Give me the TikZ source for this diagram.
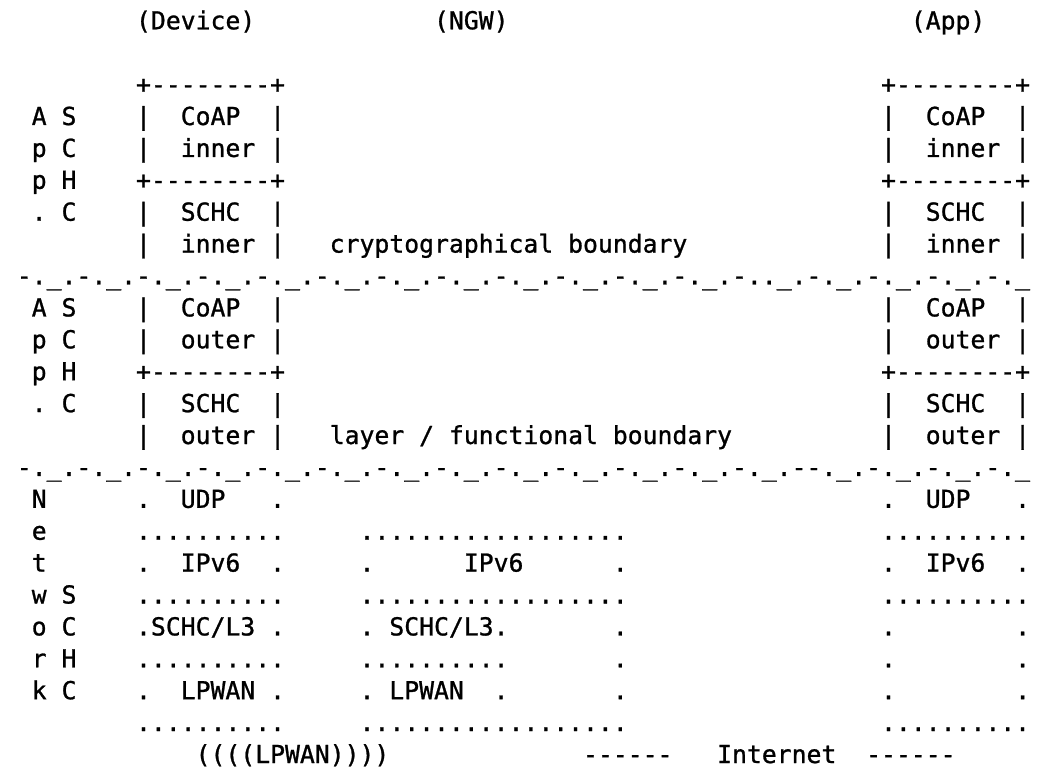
\documentclass[tikz,border=0pt]{standalone}
\usepackage{fontspec}
\setmonofont{DejaVu Sans Mono}[FakeBold=1.0]
\frenchspacing

% one character cell: 14.9 px wide, rows 31.9 px apart
\newcommand\txtat[4]{\node[txt] (#1) at ({16.85+14.9*(#2)},{29.3+31.9*(#3)}) {#4};}
\newcommand\dsh{-.\_.}

\begin{document}
\begin{tikzpicture}[x=0.5pt,y=-0.5pt,
  txt/.style={anchor=base west,inner sep=0pt,outer sep=0pt,
    font=\ttfamily\fontsize{12.375pt}{14pt}\selectfont}]
\fill[white] (0,0) rectangle (1043,770);
\useasboundingbox (0,0) rectangle (1043,770);

% column titles
\txtat{devT}{8}{0}{(Device)}
\txtat{ngwT}{28}{0}{(NGW)}
\txtat{appT}{60}{0}{(App)}

% application layer: inner part
\txtat{devTop}{8}{2}{+--------+}
\txtat{appTop}{58}{2}{+--------+}
\txtat{lA1}{1}{3}{A~S}
\txtat{devCi}{8}{3}{|~~CoAP~~|}
\txtat{appCi}{58}{3}{|~~CoAP~~|}
\txtat{lA2}{1}{4}{p~C}
\txtat{devCiB}{8}{4}{|~~inner~|}
\txtat{appCiB}{58}{4}{|~~inner~|}
\txtat{lA3}{1}{5}{p~H}
\txtat{devMid1}{8}{5}{+--------+}
\txtat{appMid1}{58}{5}{+--------+}
\txtat{lA4}{1}{6}{.~C}
\txtat{devSi}{8}{6}{|~~SCHC~~|}
\txtat{appSi}{58}{6}{|~~SCHC~~|}
\txtat{devSiB}{8}{7}{|~~inner~|}
\txtat{crypto}{21}{7}{cryptographical~boundary}
\txtat{appSiB}{58}{7}{|~~inner~|}

\txtat{sepA}{0}{8}{\dsh\dsh\dsh\dsh\dsh\dsh\dsh\dsh\dsh\dsh\dsh\dsh-..\_.-.\_.-.\_.-.\_.-.\_}

% application layer: outer part
\txtat{lB1}{1}{9}{A~S}
\txtat{devCo}{8}{9}{|~~CoAP~~|}
\txtat{appCo}{58}{9}{|~~CoAP~~|}
\txtat{lB2}{1}{10}{p~C}
\txtat{devCoB}{8}{10}{|~~outer~|}
\txtat{appCoB}{58}{10}{|~~outer~|}
\txtat{lB3}{1}{11}{p~H}
\txtat{devMid2}{8}{11}{+--------+}
\txtat{appMid2}{58}{11}{+--------+}
\txtat{lB4}{1}{12}{.~C}
\txtat{devSo}{8}{12}{|~~SCHC~~|}
\txtat{appSo}{58}{12}{|~~SCHC~~|}
\txtat{devSoB}{8}{13}{|~~outer~|}
\txtat{layer}{21}{13}{layer~/~functional~boundary}
\txtat{appSoB}{58}{13}{|~~outer~|}

\txtat{sepB}{0}{14}{\dsh\dsh\dsh\dsh\dsh\dsh\dsh\dsh\dsh\dsh\dsh\dsh\dsh-{}-.\_.-.\_.-.\_.-.\_}

% network layer
\txtat{n1}{1}{15}{N}
\txtat{devUdp}{8}{15}{.~~UDP~~~.}
\txtat{appUdp}{58}{15}{.~~UDP~~~.}

\txtat{n2}{1}{16}{e}
\txtat{devD1}{8}{16}{..........}
\txtat{ngwD1}{23}{16}{..................}
\txtat{appD1}{58}{16}{..........}

\txtat{n3}{1}{17}{t}
\txtat{devIp}{8}{17}{.~~IPv6~~.}
\txtat{ngwIp}{23}{17}{.~~~~~~IPv6~~~~~~.}
\txtat{appIp}{58}{17}{.~~IPv6~~.}

\txtat{n4}{1}{18}{w~S}
\txtat{devD2}{8}{18}{..........}
\txtat{ngwD2}{23}{18}{..................}
\txtat{appD2}{58}{18}{..........}

\txtat{n5}{1}{19}{o~C}
\txtat{devL3}{8}{19}{.SCHC/L3~.}
\txtat{ngwL3}{23}{19}{.~SCHC/L3.~~~~~~~.}
\txtat{appL3}{58}{19}{.~~~~~~~~.}

\txtat{n6}{1}{20}{r~H}
\txtat{devD3}{8}{20}{..........}
\txtat{ngwD3}{23}{20}{..........~~~~~~~.}
\txtat{appD3}{58}{20}{.~~~~~~~~.}

\txtat{n7}{1}{21}{k~C}
\txtat{devLp}{8}{21}{.~~LPWAN~.}
\txtat{ngwLp}{23}{21}{.~LPWAN~~.~~~~~~~.}
\txtat{appLp}{58}{21}{.~~~~~~~~.}

\txtat{devD4}{8}{22}{..........}
\txtat{ngwD4}{23}{22}{..................}
\txtat{appD4}{58}{22}{..........}

% links
\txtat{radio}{12}{23}{((((LPWAN))))}
\txtat{netL}{38}{23}{------}
\txtat{inet}{47}{23}{Internet}
\txtat{netR}{57}{23}{------}
\end{tikzpicture}
\end{document}
